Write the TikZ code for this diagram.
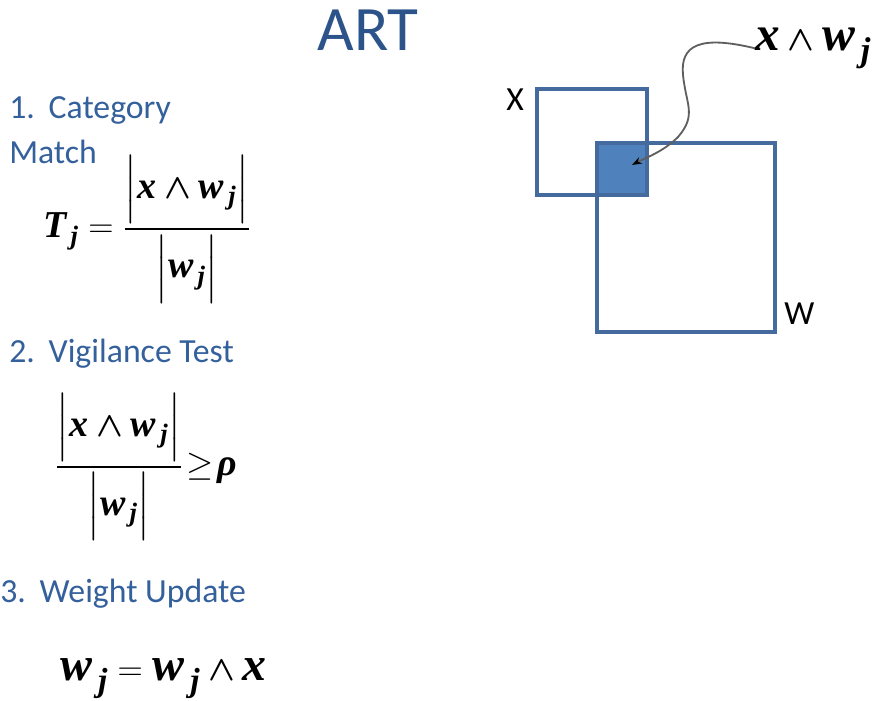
\documentclass[tikz,border=0pt]{standalone}
\usepackage{amsmath, amssymb}
\usepackage[no-math]{fontspec}
\setmainfont{Carlito}
\newfontfamily\eqfont{Liberation Serif}
\usetikzlibrary{arrows.meta}
\definecolor{titleblue}{RGB}{44,84,138}
\definecolor{headblue}{RGB}{52,96,156}
\definecolor{boxblue}{RGB}{68,106,158}
\definecolor{fillblue}{RGB}{79,129,189}
\definecolor{arrowgray}{RGB}{95,95,95}
\newcommand{\ev}[1]{\text{\eqfont\bfseries\itshape #1}}
\newcommand{\vx}{\ev{x}}
\newcommand{\vwj}{\ev{w}_{\,\ev{j}}}
\newcommand{\mt}{\boldsymbol{\wedge}}
\newcommand{\bars}[2][41pt]{\left|\rule[-10pt]{0pt}{#1}#2\right|}

\begin{document}
\begin{tikzpicture}[x=0.025cm, y=-0.025cm,
    heading/.style={anchor=base west, inner sep=0pt, text=headblue, font=\fontsize{24}{28}\selectfont},
    formula/.style={anchor=west, inner sep=0pt, font=\fontsize{27}{32}\selectfont},
    boxlabel/.style={anchor=base west, inner sep=0pt, font=\fontsize{24}{28}\selectfont},
    boxline/.style={draw=boxblue, line width=2.2pt}]
            \def\numw{28pt}
            \def\xl{537}  \def\xt{89}  \def\xr{647}  \def\xb{195}
            \def\wl{597}  \def\wt{143} \def\wr{775}  \def\wb{332}
            \useasboundingbox (0,0) rectangle (880,700);
            \node[anchor=base, inner sep=0pt, text=titleblue, font=\fontsize{45}{50}\selectfont] (title) at (368,50) {ART};
            % steps
            \node[heading] (step1) at (9,118) {\makebox[\numw][l]{1.}Category};
            \node[heading] (step1b) at (9,163) {Match};
            \node[heading] (step2) at (9,362) {\makebox[\numw][l]{2.}Vigilance Test};
            \node[heading] (step3) at (0,602) {\makebox[\numw][l]{3.}Weight Update};
            % formulas
            \node[formula] (match) at (43,229) {$\displaystyle \ev{T}_{\,\ev{j}} = \frac{\bars{\vx \mt \vwj}}{\bars{\vwj}}$};
            \node[formula] (vigil) at (55,467) {$\displaystyle \frac{\bars[35pt]{\vx \mt \vwj}}{\bars[35pt]{\vwj}} \!\geq\! \ev{ρ}$};
            \node[formula, anchor=base west, font=\fontsize{34}{38}\selectfont] (update) at (60,680) {$\vwj = \vwj \mt \vx$};
            % boxes
            \fill[fillblue] (\wl,\wt) rectangle (\xr,\xb);
            \draw[boxline] (\xl,\xt) rectangle (\xr,\xb);
            \draw[boxline] (\wl,\wt) rectangle (\wr,\wb);
            \node[boxlabel] (xlbl) at (506,110) {X};
            \node[boxlabel] (wlbl) at (784,324) {W};
            \node[formula, anchor=base west, font=\fontsize{35}{40}\selectfont] (meet) at (755,50) {$\vx \mt \vwj$};
            \coordinate (tip) at (632,165);
            \draw[arrowgray, line width=1.3pt, -{Stealth[length=7pt, width=5pt, black]}] (meet.west) .. controls (700,35) and (680,45) .. (683,75) .. controls (686,105) and (697,115) .. (678,137) .. controls (663,152) and (645,158) .. (tip);
        \end{tikzpicture}
\end{document}
